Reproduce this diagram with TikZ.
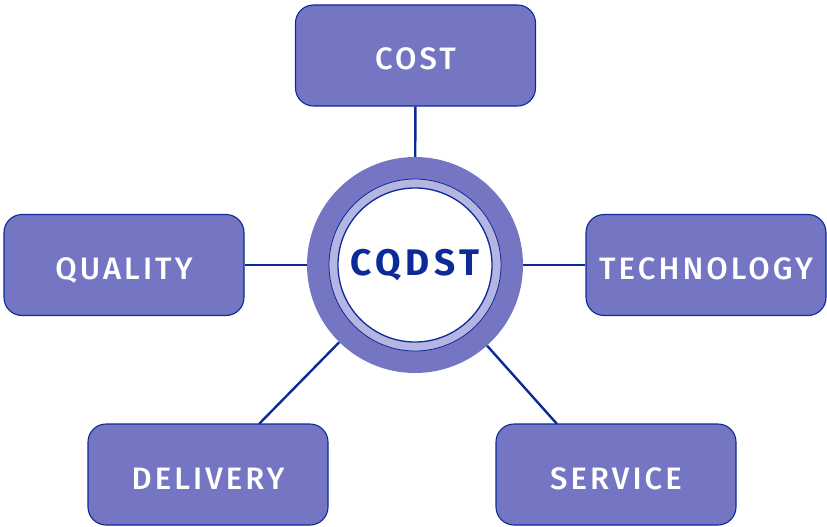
\documentclass[tikz,border=0pt]{standalone}
\usepackage{fontspec}
\setmainfont{Fira Sans}
\newfontfamily\boxfont[LetterSpace=10]{Fira Sans Medium}
\newfontfamily\hubfont[LetterSpace=12]{Fira Sans}
\definecolor{periw}{HTML}{7476C4}
\definecolor{navy}{HTML}{0D2A99}
\definecolor{ringlight}{HTML}{B4B5E0}
\tikzset{
  factor/.style={draw=navy, line width=1.1pt, fill=periw, rounded corners=18pt,
    minimum width=240pt, minimum height=101pt, inner sep=0pt,
    text=white, text height=29pt, text depth=0pt, font=\boxfont\fontsize{31}{31}\selectfont},
  link/.style={draw=navy, line width=2.4pt},
  hubouter/.style={circle, fill=periw, minimum size=216pt, inner sep=0pt},
  hubring/.style={circle, fill=ringlight, draw=navy, line width=0.8pt, minimum size=172pt, inner sep=0pt},
  hubcore/.style={circle, fill=white, draw=navy, line width=1.3pt, minimum size=154pt, inner sep=0pt,
    text=navy, font=\hubfont\bfseries\fontsize{37}{37}\selectfont}
}
\begin{document}
\begin{tikzpicture}[x=1pt,y=-1pt]
\useasboundingbox (0,0) rectangle (827,527);
% central hub: three concentric discs
\node[hubouter] (hub) at (415,265) {};
\node[hubring] (ring) at (hub) {};
\node[hubcore] (core) at (hub) {CQDST};
% the five factors
\node[factor] (cost) at (415.5,55.5) {COST};
\node[factor] (quality) at (124,265) {QUALITY};
\node[factor] (tech) at (706,265) {TECHNOLOGY};
\node[factor] (delivery) at (208,474.5) {DELIVERY};
\node[factor] (service) at (616,474.5) {SERVICE};
% attachment points on the lower boxes
\coordinate (dtop) at (259,424);
\coordinate (stop) at (557,424);
% connectors
\draw[link] (cost) -- (hub);
\draw[link] (quality) -- (hub);
\draw[link] (tech) -- (hub);
\draw[link] (hub) -- (dtop);
\draw[link] (hub) -- (stop);
\end{tikzpicture}
\end{document}
